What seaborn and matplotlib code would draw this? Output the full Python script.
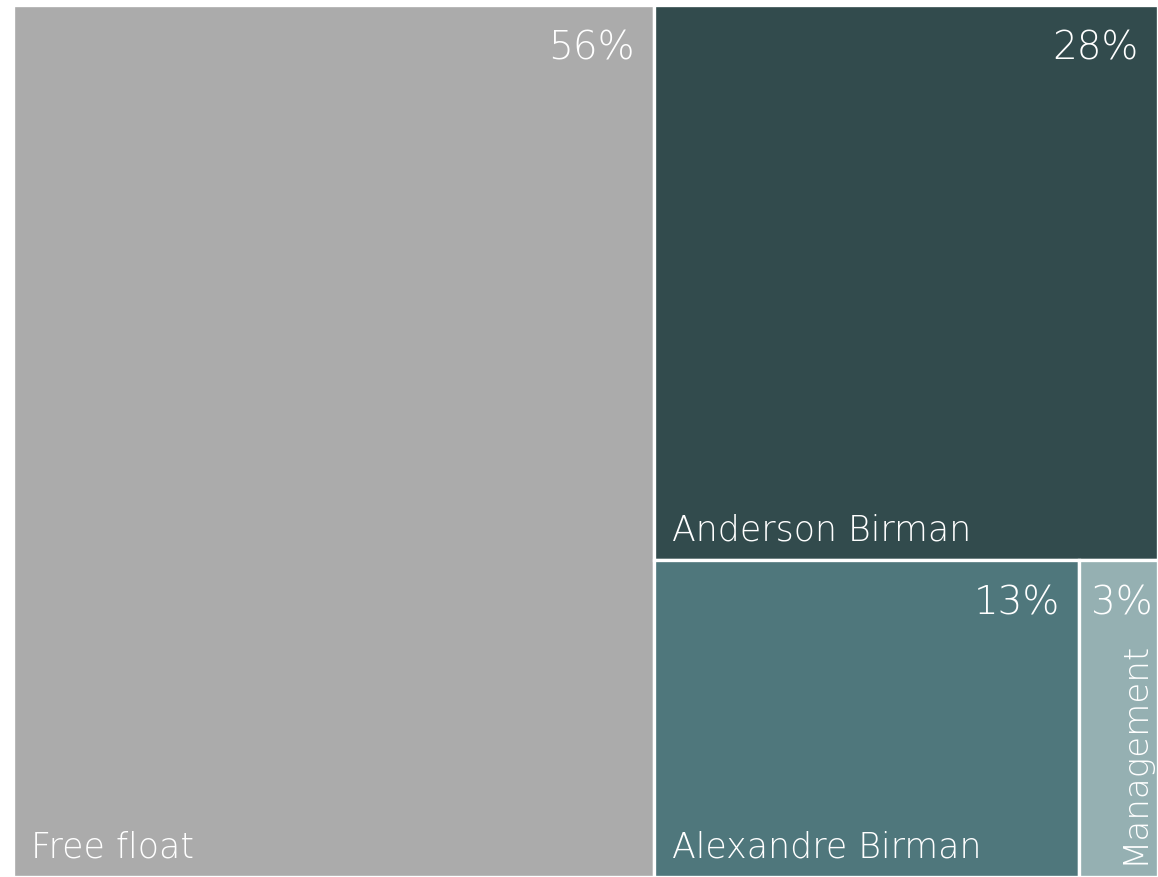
import matplotlib
matplotlib.use("Agg")
import matplotlib.pyplot as plt
import seaborn as sns

categories = ["Free float", "Anderson Birman", "Alexandre Birman", "Management"]
values = [56.0, 28.0, 13.5, 2.5]
pct_labels = ["56%", "28%", "13%", "3%"]
colors = ["#ababab", "#324b4d", "#4f777c", "#95b0b2"]

sns.set_theme(style="white")
plt.rcParams["font.family"] = ["DejaVu Sans"]

fig = plt.figure(figsize=(11.58, 8.77), dpi=100)
ax = fig.add_axes([13 / 1158, 0, 1 - 13 / 1158, 1 - 5 / 877])

total = sum(values)
# layout: first item full-height column, the rest in the right column
w0 = values[0] / total
rects = [(0, 0, w0, 1.0)]
rest = total - values[0]
wr = 1 - w0
h1 = values[1] / rest
rects.append((w0, 1 - h1, wr, h1))
bottom_total = values[2] + values[3]
w2 = wr * values[2] / bottom_total
rects.append((w0, 0, w2, 1 - h1))
rects.append((w0 + w2, 0, wr - w2, 1 - h1))

for (x, y, w, h), c in zip(rects, colors):
    ax.bar(x, h, width=w, bottom=y, align="edge", color=c,
           edgecolor="white", linewidth=2.4)

for (x, y, w, h), name, pl in zip(rects, categories, pct_labels):
    if name == "Management":
        ax.annotate(pl, xy=(x + w / 2, y + h), xytext=(2, -18), textcoords="offset points",
                    ha="center", va="top", color="white", fontsize=28, fontweight="light")
        ax.annotate(name, xy=(x + w / 2, y), xytext=(11, 9), textcoords="offset points",
                    ha="center", va="bottom", rotation=90, color="white",
                    fontsize=24.5, fontweight="light")
    else:
        ax.annotate(pl, xy=(x + w, y + h), xytext=(-14, -18), textcoords="offset points",
                    ha="right", va="top", color="white", fontsize=28, fontweight="light")
        ax.annotate(name, xy=(x, y), xytext=(13, 14), textcoords="offset points",
                    ha="left", va="baseline", color="white", fontsize=25, fontweight="light")

ax.set_xlim(0, 1)
ax.set_ylim(0, 1)
ax.axis("off")
fig.savefig("out.png", dpi=100)
